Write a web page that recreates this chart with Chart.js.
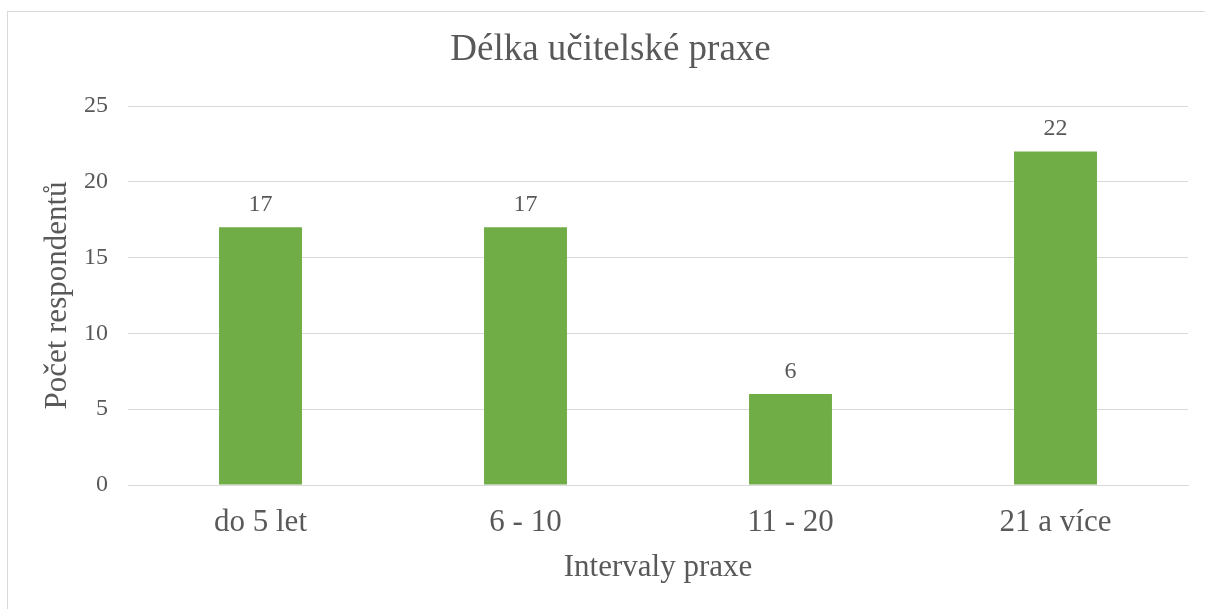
<!DOCTYPE html>
<html>
<head>
<meta charset="utf-8">
<script src="https://cdn.jsdelivr.net/npm/chart.js@4/dist/chart.umd.min.js"></script>
<style>
html,body{margin:0;padding:0;background:#fff;}
canvas{display:block;}
</style>
</head>
<body>
<canvas id="c" width="1205" height="609"></canvas>
<script>
const chartTitle = "Délka učitelské praxe";
const xAxisTitle = "Intervaly praxe";
const yAxisTitle = "Počet respondentů";
const categories = ["do 5 let", "6 - 10", "11 - 20", "21 a více"];
const respondents = [17, 17, 6, 22];
const yMin = 0, yMax = 25, yStep = 5;

const FONT = '"Liberation Serif", "Times New Roman", serif';
const TXT = '#595959';
const GRID = '#d9d9d9';

const borderPlugin = {
  id: 'outerBorder',
  beforeDraw(chart) {
    const ctx = chart.ctx;
    ctx.save();
    ctx.fillStyle = '#fff';
    ctx.fillRect(0, 0, chart.width, chart.height);
    ctx.strokeStyle = GRID;
    ctx.lineWidth = 1;
    ctx.strokeRect(7.5, 11.5, 1300, 700);
    ctx.restore();
  }
};

const labelPlugin = {
  id: 'valueLabels',
  afterDatasetsDraw(chart) {
    const ctx = chart.ctx;
    ctx.save();
    ctx.fillStyle = TXT;
    ctx.font = '24px ' + FONT;
    ctx.textAlign = 'center';
    ctx.textBaseline = 'alphabetic';
    chart.data.datasets.forEach((ds, i) => {
      chart.getDatasetMeta(i).data.forEach((el, j) => {
        ctx.fillText(String(ds.data[j]), el.x, el.y - 16.5);
      });
    });
    ctx.restore();
  }
};

new Chart(document.getElementById('c'), {
  type: 'bar',
  data: {
    labels: categories,
    datasets: [{
      data: respondents,
      backgroundColor: '#70AD47',
      borderWidth: 0,
      categoryPercentage: 1,
      barPercentage: 0.313
    }]
  },
  options: {
    responsive: false,
    animation: false,
    devicePixelRatio: 1,
    layout: { padding: { left: 16, right: 0, top: 0, bottom: 0 } },
    plugins: {
      legend: { display: false },
      tooltip: { enabled: false },
      title: {
        display: true,
        text: chartTitle,
        color: TXT,
        font: { family: FONT, size: 37, weight: 'normal' },
        padding: { top: 28.5, bottom: 33.1 }
      }
    },
    scales: {
      x: {
        grid: { display: false, drawTicks: false },
        border: { display: true, color: GRID, width: 1 },
        ticks: { color: TXT, font: { family: FONT, size: 31 }, padding: 19 },
        title: {
          display: true, text: xAxisTitle, color: TXT,
          font: { family: FONT, size: 31 },
          padding: { top: 7.6, bottom: 23 }
        },
        afterFit(s) { s.height = 124; }
      },
      y: {
        min: yMin, max: yMax,
        grid: { color: GRID, lineWidth: 1, drawTicks: false },
        border: { display: false },
        ticks: { stepSize: yStep, color: TXT, font: { family: FONT, size: 24 }, padding: 20 },
        title: {
          display: true, text: yAxisTitle, color: TXT,
          font: { family: FONT, size: 31 },
          padding: { top: 23.4, bottom: 0 }
        },
        afterFit(s) { s.width = 112; }
      },
      y2: {
        position: 'right',
        display: true,
        grid: { display: false, drawTicks: false },
        border: { display: false },
        ticks: { display: false },
        afterFit(s) { s.width = 17; }
      }
    }
  },
  plugins: [borderPlugin, labelPlugin]
});
</script>
</body>
</html>
